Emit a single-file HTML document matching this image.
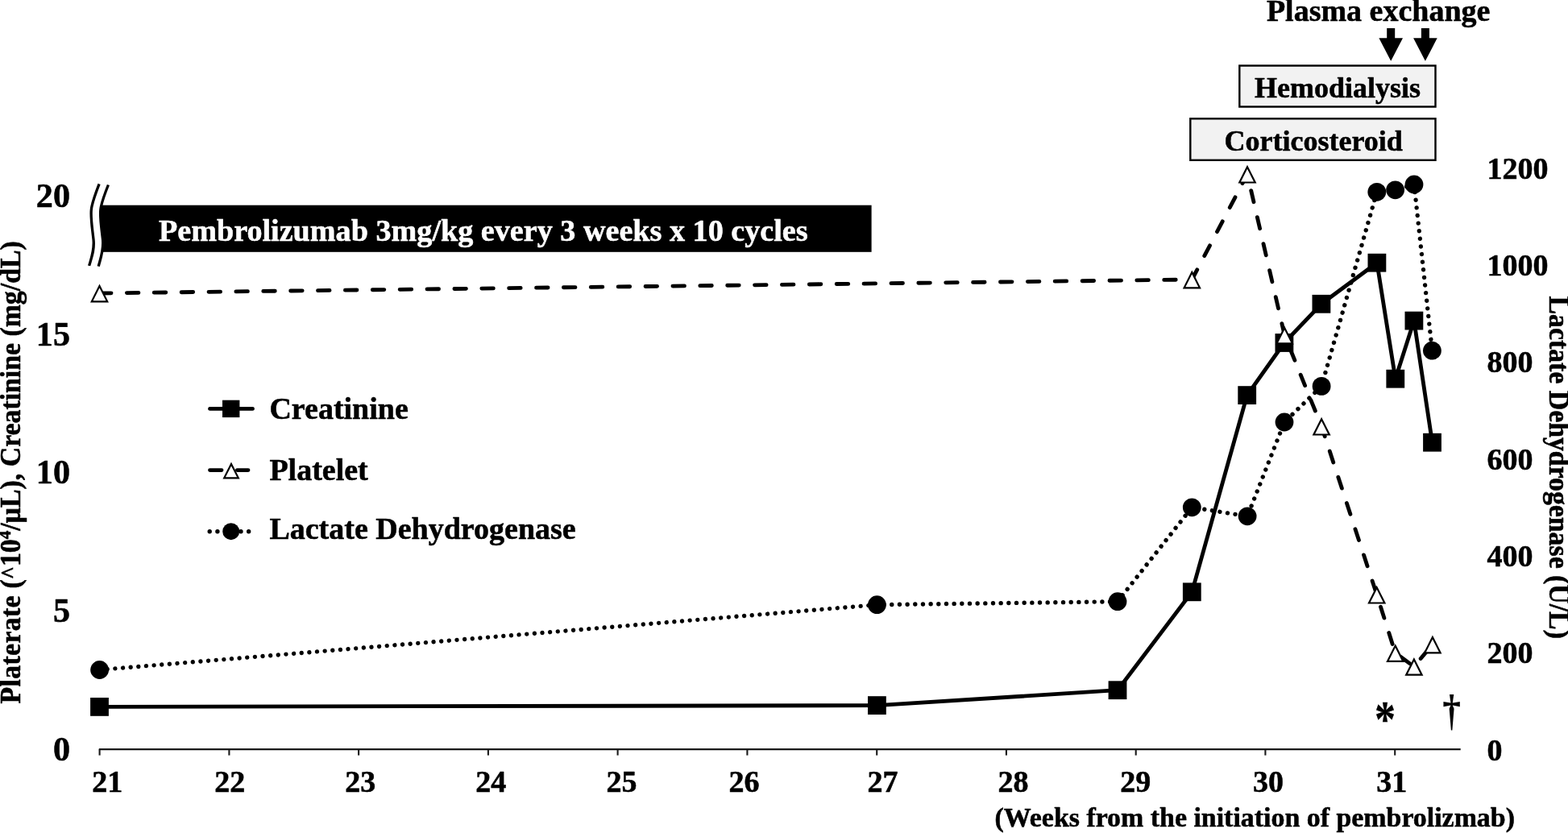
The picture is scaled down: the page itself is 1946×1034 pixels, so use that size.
<!DOCTYPE html>
<html><head><meta charset="utf-8"><title>Clinical course</title>
<style>
html,body{margin:0;padding:0;background:#fff;overflow:hidden;}
svg{display:block}
text{font-family:"Liberation Serif","Times New Roman",serif;font-weight:bold;fill:#000;stroke:#000;stroke-width:0.55px;stroke-linejoin:round;}
</style></head><body>
<svg width="1946" height="1034" viewBox="0 0 1946 1034">
<rect width="1946" height="1034" fill="#fff"/>

<g stroke="#1a1a1a" stroke-width="2.1" fill="none">
<line x1="122.8" y1="930.1" x2="1812.7" y2="930.1"/>
<line x1="123.6" y1="930.1" x2="123.6" y2="937.6"/>
<line x1="284.4" y1="930.1" x2="284.4" y2="937.6"/>
<line x1="445.1" y1="930.1" x2="445.1" y2="937.6"/>
<line x1="605.9" y1="930.1" x2="605.9" y2="937.6"/>
<line x1="766.6" y1="930.1" x2="766.6" y2="937.6"/>
<line x1="927.4" y1="930.1" x2="927.4" y2="937.6"/>
<line x1="1088.2" y1="930.1" x2="1088.2" y2="937.6"/>
<line x1="1248.9" y1="930.1" x2="1248.9" y2="937.6"/>
<line x1="1409.7" y1="930.1" x2="1409.7" y2="937.6"/>
<line x1="1570.4" y1="930.1" x2="1570.4" y2="937.6"/>
<line x1="1731.2" y1="930.1" x2="1731.2" y2="937.6"/>
</g>
<rect x="125.5" y="254.7" width="956.1" height="58.1" fill="#000"/>
<text x="196.9" y="298.8" font-size="38.17" style="fill:#fff;stroke:#fff">Pembrolizumab 3mg/kg every 3 weeks x 10 cycles</text>
<path d="M123.1,228.3 C110,262 112,262 116,297 C117.5,310 113.5,320 110.6,329.9 L122.2,330.6 C125,320 129,310 127.5,297 C123.5,262 121.5,262 134.4,229.5 Z" fill="#fff"/>
<g fill="none" stroke="#000" stroke-width="3.3" stroke-linecap="butt">
<path d="M123.1,228.3 C110,262 112,262 116,297 C117.5,310 113.5,320 110.6,329.9"/>
<path d="M134.4,229.5 C121.5,262 123.5,262 127.5,297 C129,310 125,320 122.2,330.6"/>
</g>
<rect x="1538.3" y="81.5" width="243.2" height="51" fill="#f2f2f2" stroke="#000" stroke-width="2.4"/>
<rect x="1477.3" y="147.3" width="304.2" height="51.5" fill="#f2f2f2" stroke="#000" stroke-width="2.4"/>
<text x="1557" y="120.6" font-size="36">Hemodialysis</text>
<text x="1519.6" y="186.7" font-size="36">Corticosteroid</text>
<text x="1571.9" y="25.6" font-size="38">Plasma exchange</text>
<path d="M1721.2,34.9 H1731.2 V47.3 H1741.0 L1726.2,75.7 L1711.4,47.3 H1721.2 Z" fill="#000"/>
<path d="M1763.9,34.9 H1773.9 V47.3 H1783.7 L1768.9,75.7 L1754.1,47.3 H1763.9 Z" fill="#000"/>
<g fill="none" stroke="#000" stroke-width="4.84" stroke-linejoin="round" stroke-linecap="round">
<polyline points="123.5,877.4 1088.4,875.6 1387.0,856.7 1479.3,734.8 1547.7,490.6 1593.9,425.5 1639.9,377.3 1708.9,326.2 1731.8,470.2 1754.9,398.1 1777.5,549.2"/>
</g>
<g fill="#000"><rect x="112.1" y="866.0" width="22.8" height="22.8"/><rect x="1077.0" y="864.2" width="22.8" height="22.8"/><rect x="1375.6" y="845.3" width="22.8" height="22.8"/><rect x="1467.9" y="723.4" width="22.8" height="22.8"/><rect x="1536.3" y="479.2" width="22.8" height="22.8"/><rect x="1582.5" y="414.1" width="22.8" height="22.8"/><rect x="1628.5" y="365.9" width="22.8" height="22.8"/><rect x="1697.5" y="314.8" width="22.8" height="22.8"/><rect x="1720.4" y="458.8" width="22.8" height="22.8"/><rect x="1743.5" y="386.7" width="22.8" height="22.8"/><rect x="1766.1" y="537.8" width="22.8" height="22.8"/></g>
<polyline points="123.5,364.0 1479.3,347.0 1548.0,216.2 1594.2,416.0 1640.1,529.2 1708.7,738.2 1731.7,810.6 1754.9,827.4 1777.9,800.0" fill="none" stroke="#000" stroke-width="4.84" stroke-linecap="round" stroke-linejoin="round" stroke-dasharray="14.52 19.36"/>
<path d="M123.5,355.0 L133.2,374.3 L113.8,374.3 Z" fill="#fff" stroke="#000" stroke-width="2.2" stroke-linejoin="miter"/><path d="M1479.3,338.0 L1489.0,357.3 L1469.6,357.3 Z" fill="#fff" stroke="#000" stroke-width="2.2" stroke-linejoin="miter"/><path d="M1548.0,207.2 L1557.7,226.5 L1538.3,226.5 Z" fill="#fff" stroke="#000" stroke-width="2.2" stroke-linejoin="miter"/><path d="M1594.2,407.0 L1603.9,426.3 L1584.5,426.3 Z" fill="#fff" stroke="#000" stroke-width="2.2" stroke-linejoin="miter"/><path d="M1640.1,520.2 L1649.8,539.5 L1630.4,539.5 Z" fill="#fff" stroke="#000" stroke-width="2.2" stroke-linejoin="miter"/><path d="M1708.7,729.2 L1718.4,748.5 L1699.0,748.5 Z" fill="#fff" stroke="#000" stroke-width="2.2" stroke-linejoin="miter"/><path d="M1731.7,801.6 L1741.4,820.9 L1722.0,820.9 Z" fill="#fff" stroke="#000" stroke-width="2.2" stroke-linejoin="miter"/><path d="M1754.9,818.4 L1764.6,837.7 L1745.2,837.7 Z" fill="#fff" stroke="#000" stroke-width="2.2" stroke-linejoin="miter"/><path d="M1777.9,791.0 L1787.6,810.3 L1768.2,810.3 Z" fill="#fff" stroke="#000" stroke-width="2.2" stroke-linejoin="miter"/>
<polyline points="123.6,831.5 1088.4,750.7 1387.0,746.7 1479.3,629.8 1548.1,640.8 1594.0,524.0 1640.1,479.4 1708.8,238.3 1731.6,235.8 1755.0,229.0 1777.4,435.2" fill="none" stroke="#000" stroke-width="5.4" stroke-linecap="round" stroke-linejoin="round" stroke-dasharray="0.01 9.662"/>
<g fill="#000"><circle cx="123.6" cy="831.5" r="11.4"/><circle cx="1088.4" cy="750.7" r="11.4"/><circle cx="1387.0" cy="746.7" r="11.4"/><circle cx="1479.3" cy="629.8" r="11.4"/><circle cx="1548.1" cy="640.8" r="11.4"/><circle cx="1594.0" cy="524.0" r="11.4"/><circle cx="1640.1" cy="479.4" r="11.4"/><circle cx="1708.8" cy="238.3" r="11.4"/><circle cx="1731.6" cy="235.8" r="11.4"/><circle cx="1755.0" cy="229.0" r="11.4"/><circle cx="1777.4" cy="435.2" r="11.4"/></g>
<line x1="260.5" y1="507.4" x2="313.5" y2="507.4" stroke="#000" stroke-width="4.84" stroke-linecap="round"/>
<g fill="#000"><rect x="276.0" y="496.7" width="21.4" height="21.4"/></g>
<line x1="260.5" y1="583.6" x2="308" y2="583.6" stroke="#000" stroke-width="4.84" stroke-linecap="round" stroke-dasharray="14.52 19.36"/>
<path d="M287.0,576.0 L295.8,593.3 L278.2,593.3 Z" fill="#fff" stroke="#000" stroke-width="2.2" stroke-linejoin="miter"/>
<line x1="260.2" y1="659.7" x2="310" y2="659.7" stroke="#000" stroke-width="5.4" stroke-linecap="round" stroke-dasharray="0.01 9.68"/>
<g fill="#000"><circle cx="286.7" cy="659.7" r="10.5"/></g>
<text x="334.4" y="519.9" font-size="38">Creatinine</text>
<text x="334.4" y="595.5" font-size="38">Platelet</text>
<text x="334.4" y="669" font-size="38">Lactate Dehydrogenase</text>
<text transform="translate(87.0,256.8) scale(0.98,1)" font-size="43" text-anchor="end">20</text>
<text transform="translate(87.0,428.5) scale(0.98,1)" font-size="43" text-anchor="end">15</text>
<text transform="translate(87.0,600.2) scale(0.98,1)" font-size="43" text-anchor="end">10</text>
<text transform="translate(87.0,771.9) scale(0.98,1)" font-size="43" text-anchor="end">5</text>
<text transform="translate(87.0,943.6) scale(0.98,1)" font-size="43" text-anchor="end">0</text>
<text x="1845.4" y="221.6" font-size="38">1200</text>
<text x="1845.4" y="341.9" font-size="38">1000</text>
<text x="1845.4" y="462.3" font-size="38">800</text>
<text x="1845.4" y="582.6" font-size="38">600</text>
<text x="1845.4" y="703.0" font-size="38">400</text>
<text x="1845.4" y="823.4" font-size="38">200</text>
<text x="1845.4" y="943.7" font-size="38">0</text>
<text x="114.2" y="982.6" font-size="38">21</text>
<text x="266.2" y="982.6" font-size="38">22</text>
<text x="428.2" y="982.6" font-size="38">23</text>
<text x="590.2" y="982.6" font-size="38">24</text>
<text x="752.5" y="982.6" font-size="38">25</text>
<text x="904.5" y="982.6" font-size="38">26</text>
<text x="1076.5" y="982.6" font-size="38">27</text>
<text x="1238.5" y="982.6" font-size="38">28</text>
<text x="1390.2" y="982.6" font-size="38">29</text>
<text x="1554.9" y="982.6" font-size="38">30</text>
<text x="1708.2" y="982.6" font-size="38">31</text>
<text x="1234.5" y="1025.6" font-size="33.9">(Weeks from the initiation of pembrolizmab)</text>
<text transform="translate(24.8,873.5) rotate(-90) scale(1,1.04)" font-size="33.8"><tspan letter-spacing="0.35">Platerate</tspan> (<tspan font-size="28" dy="-3">^</tspan><tspan dy="3">10</tspan><tspan font-size="21" dy="-11">4</tspan><tspan dy="11">/µL), Creatinine (mg/dL)</tspan></text>
<text transform="translate(1922.6,367.5) rotate(90) scale(1,1.04)" font-size="33.8">Lactate Dehydrogenase (U/L)</text>
<text transform="translate(1706,914) scale(1,1.21)" font-size="52" style="stroke-width:0.3px">*</text>
<text transform="translate(1790.2,900.1) scale(0.91,1.10)" font-size="50" style="stroke:none">†</text>
</svg></body></html>
